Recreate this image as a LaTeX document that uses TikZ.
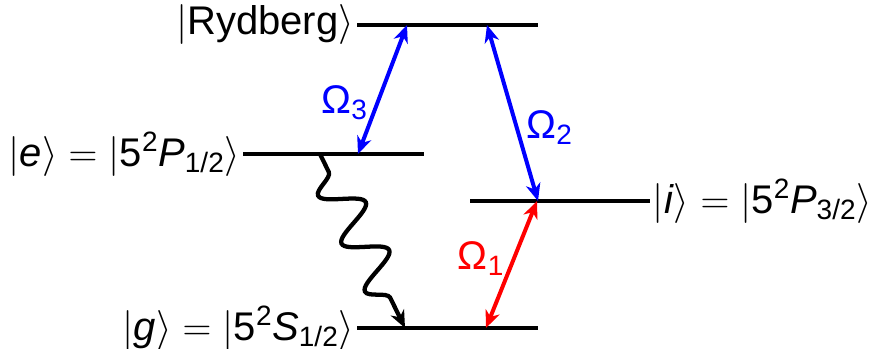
\RequirePackage{fix-cm}
\documentclass[tikz,border=0pt]{standalone}
\usepackage{fontspec}
\setmainfont{Liberation Sans}
\usetikzlibrary{arrows.meta,positioning,decorations.pathmorphing}
\definecolor{Coupling}{HTML}{0000FF}
\definecolor{Probe}{HTML}{FF0000}
\newcommand{\ketof}[1]{$|$#1$\rangle$}
\tikzset{
  >={Stealth[length=13pt,width=11pt,inset=4pt]},
  level/.style={line width=3pt,draw=black},
  lvlab/.style={font=\fontsize{30}{36}\selectfont,inner sep=0pt},
  beam/.style={<->,line width=3pt},
  rabi/.style={font=\fontsize{30}{36}\selectfont,inner sep=1pt},
  decay/.style={->,line width=3.2pt,decorate,
    decoration={snake,segment length=40pt,amplitude=-15pt,pre length=15pt,post length=11pt}}
}

\begin{document}
\begin{tikzpicture}[x=0.75pt,y=-0.75pt]
  \useasboundingbox (0,0) rectangle (870,349);
  % levels
  \coordinate (rydL) at (357,25); \coordinate (rydR) at (538,25);
  \coordinate (eL) at (243,154); \coordinate (eR) at (424,154);
  \coordinate (iL) at (470,201); \coordinate (iR) at (650,201);
  \coordinate (gL) at (357,328); \coordinate (gR) at (538,328);
  \draw[level] (rydL)--(rydR);
  \draw[level] (eL)--(eR);
  \draw[level] (iL)--(iR);
  \draw[level] (gL)--(gR);
  \node[lvlab,left=2pt of rydL] (rydlab) {\ketof{Rydberg}};
  \node[lvlab,left=2pt of eL] (elab) {\ketof{\textit{e}} $=$ \ketof{5\textsuperscript{2}\textit{P}\textsubscript{1/2}}};
  \node[lvlab,right=2pt of iR] (ilab) {\ketof{\textit{i}} $=$ \ketof{5\textsuperscript{2}\textit{P}\textsubscript{3/2}}};
  \node[lvlab,left=2pt of gL] (glab) {\ketof{\textit{g}} $=$ \ketof{5\textsuperscript{2}\textit{S}\textsubscript{1/2}}};
  % transitions
  \coordinate (r3) at (407,25); \coordinate (e3) at (358,154);
  \coordinate (r2) at (487,25); \coordinate (i2) at (538,201);
  \coordinate (i1) at (537,201); \coordinate (g1) at (486,328);
  \coordinate (ew) at (320,154); \coordinate (gw) at (405,328);
  \draw[beam,Coupling] (r3)--node[rabi,pos=0.6,left=5pt] {Ω\textsubscript{3}}(e3);
  \draw[beam,Coupling] (r2)--node[rabi,pos=0.58,right=5pt] {Ω\textsubscript{2}}(i2);
  \draw[beam,Probe] (g1)--node[rabi,pos=0.55,left=5pt] {Ω\textsubscript{1}}(i1);
  \draw[decay] (ew)--(gw);
\end{tikzpicture}
\end{document}
